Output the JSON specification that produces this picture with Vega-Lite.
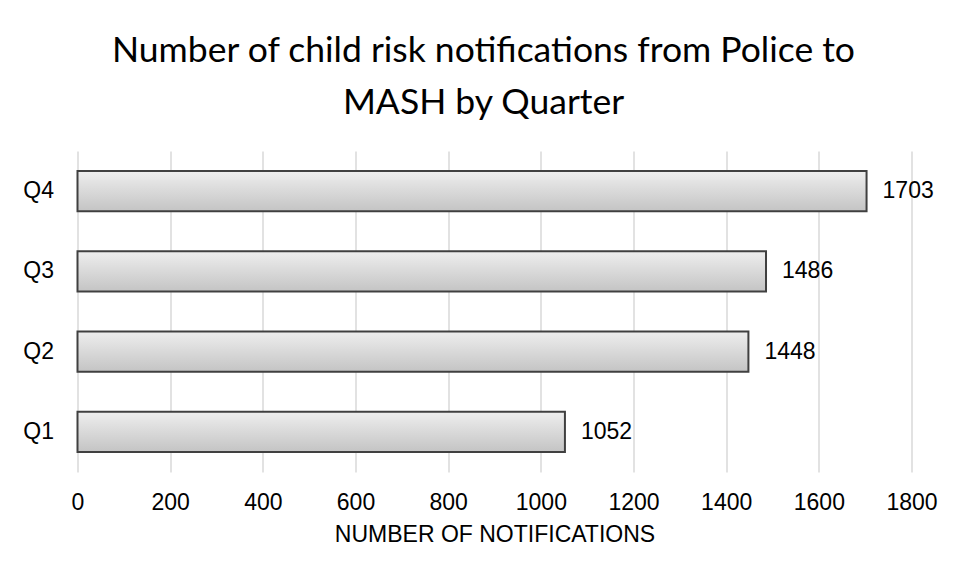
{
  "$schema": "https://vega.github.io/schema/vega-lite/v6.json",
  "width": 834,
  "height": 321,
  "autosize": "none",
  "padding": {"left": 77.5, "top": 151, "right": 44.5, "bottom": 105},
  "background": "white",
  "title": {
    "text": ["Number of child risk notifications from Police to", "MASH by Quarter"],
    "font": "Lato",
    "fontSize": 35.5,
    "fontWeight": "normal",
    "color": "#000000",
    "lineHeight": 52,
    "anchor": "middle",
    "dx": -11,
    "offset": 30
  },
  "data": {
    "values": [
      {"quarter": "Q1", "notifications": 1052},
      {"quarter": "Q2", "notifications": 1448},
      {"quarter": "Q3", "notifications": 1486},
      {"quarter": "Q4", "notifications": 1703}
    ]
  },
  "encoding": {
    "y": {
      "field": "quarter",
      "type": "nominal",
      "sort": ["Q4", "Q3", "Q2", "Q1"],
      "scale": {"paddingInner": 0.5, "paddingOuter": 0.25},
      "axis": {
        "title": null,
        "domain": false,
        "ticks": false,
        "grid": false,
        "labelFont": "Liberation Sans",
        "labelFontSize": 23,
        "labelColor": "#000000",
        "labelPadding": 24
      }
    },
    "x": {
      "field": "notifications",
      "type": "quantitative",
      "scale": {"domain": [0, 1800], "nice": false},
      "axis": {
        "title": "NUMBER OF NOTIFICATIONS",
        "values": [0, 200, 400, 600, 800, 1000, 1200, 1400, 1600, 1800],
        "format": "d",
        "labelFlush": false,
        "domain": false,
        "ticks": false,
        "grid": true,
        "gridColor": "#d9d9d9",
        "gridWidth": 1.5,
        "labelFont": "Liberation Sans",
        "labelFontSize": 23,
        "labelColor": "#000000",
        "labelPadding": 19,
        "titleFont": "Liberation Sans",
        "titleFontSize": 23,
        "titleFontWeight": "normal",
        "titleColor": "#000000",
        "titlePadding": 9
      }
    }
  },
  "layer": [
    {
      "mark": {
        "type": "bar",
        "stroke": "#404040",
        "strokeWidth": 2,
        "fill": {
          "gradient": "linear",
          "x1": 0, "y1": 0, "x2": 0, "y2": 1,
          "stops": [
            {"offset": 0, "color": "#eeeeee"},
            {"offset": 1, "color": "#c4c4c4"}
          ]
        }
      }
    },
    {
      "mark": {
        "type": "text",
        "align": "left",
        "baseline": "middle",
        "dx": 16,
        "font": "Liberation Sans",
        "fontSize": 23,
        "color": "#000000"
      },
      "encoding": {
        "text": {"field": "notifications", "type": "quantitative", "format": "d"}
      }
    }
  ],
  "config": {
    "view": {"stroke": null}
  }
}
